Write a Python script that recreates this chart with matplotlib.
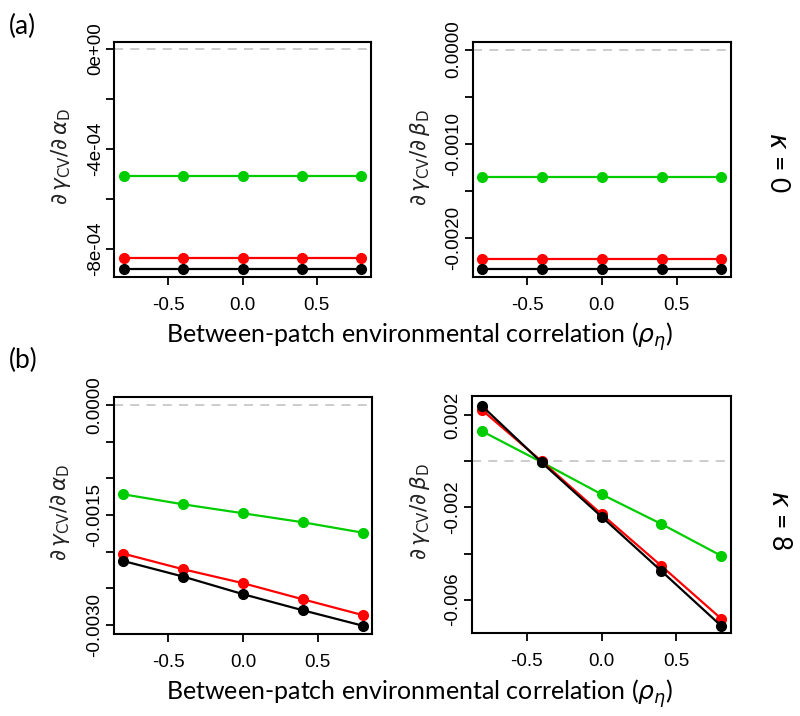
import numpy as np
import matplotlib
matplotlib.use("Agg")
import matplotlib.pyplot as plt

# between-patch environmental correlation
rho = [-0.8, -0.4, 0.0, 0.4, 0.8]

# (a) kappa = 0
a_alpha_black = [-8.80e-4] * 5
a_alpha_red = [-8.36e-4] * 5
a_alpha_green = [-5.08e-4] * 5
a_beta_black = [-2.34e-3] * 5
a_beta_red = [-2.23e-3] * 5
a_beta_green = [-1.355e-3] * 5

# (b) kappa = 8
b_alpha_black = [-2.127e-3, -2.34e-3, -2.58e-3, -2.80e-3, -3.01e-3]
b_alpha_red = [-2.027e-3, -2.24e-3, -2.43e-3, -2.65e-3, -2.865e-3]
b_alpha_green = [-1.216e-3, -1.353e-3, -1.475e-3, -1.598e-3, -1.74e-3]
b_beta_black = [2.41e-3, -0.05e-3, -2.40e-3, -4.76e-3, -7.14e-3]
b_beta_red = [2.23e-3, 0.0, -2.29e-3, -4.54e-3, -6.83e-3]
b_beta_green = [1.31e-3, -0.04e-3, -1.43e-3, -2.72e-3, -4.10e-3]

W, H = 800, 716
fig = plt.figure(figsize=(W / 100, H / 100), dpi=100)


def px_axes(x0, y0, x1, y1):
    return fig.add_axes([x0 / W, 1 - y1 / H, (x1 - x0) / W, (y1 - y0) / H])


def fx(x):
    return x / W


def fy(y):
    return 1 - y / H


GREEN = "#00CD00"
TICKFONT = dict(family="Liberation Sans", size=13.5)


def panel(ax, black, red, green, ylim, yticks, ylabels):
    ax.axhline(0, color="#C8C8C8", lw=1.3, ls=(0, (5, 4)), zorder=1)
    for vals, col in [(green, GREEN), (red, "red"), (black, "black")]:
        ax.plot(rho, vals, color=col, lw=1.6, marker="o", ms=7, zorder=3)
    ax.set_xlim(-0.865, 0.865)
    ax.set_ylim(*ylim)
    ax.set_xticks([-0.5, 0.0, 0.5])
    ax.set_xticklabels(["-0.5", "0.0", "0.5"], fontdict=TICKFONT)
    ax.set_yticks(yticks)
    ax.set_yticklabels(ylabels, rotation=90, va="center", fontdict=TICKFONT)
    ax.tick_params(length=5.5, width=1.3)
    ax.tick_params(axis="y", pad=2)
    ax.tick_params(axis="x", pad=9)
    for s in ax.spines.values():
        s.set_linewidth(1.5)


ax1 = px_axes(114.3, 42, 371, 277)
panel(ax1, a_alpha_black, a_alpha_red, a_alpha_green, (-9.12e-4, 2.8e-5),
      [0, -2e-4, -4e-4, -6e-4, -8e-4], ["0e+00", "", "-4e-04", "", "-8e-04"])

ax2 = px_axes(472.7, 42, 731, 277)
panel(ax2, a_beta_black, a_beta_red, a_beta_green, (-2.42e-3, 8.1e-5),
      [0, -5e-4, -1e-3, -1.5e-3, -2e-3], ["0.0000", "", "-0.0010", "", "-0.0020"])

ax3 = px_axes(113.7, 396.7, 372.3, 634)
panel(ax3, b_alpha_black, b_alpha_red, b_alpha_green, (-3.124e-3, 1.17e-4),
      [0, -5e-4, -1e-3, -1.5e-3, -2e-3, -2.5e-3, -3e-3],
      ["0.0000", "", "", "-0.0015", "", "", "-0.0030"])

ax4 = px_axes(472, 396, 731, 633.3)
panel(ax4, b_beta_black, b_beta_red, b_beta_green, (-7.46e-3, 2.83e-3),
      [2e-3, 0, -2e-3, -4e-3, -6e-3], ["0.002", "", "-0.002", "", "-0.006"])

ylab_a = r"$\partial\,\gamma_{\rm CV}/\partial\,\alpha_{\rm D}$"
ylab_b = r"$\partial\,\gamma_{\rm CV}/\partial\,\beta_{\rm D}$"
for x, y, s in [(61, 156, ylab_a), (420, 158, ylab_b), (60, 512, ylab_a), (420, 512, ylab_b)]:
    fig.text(fx(x), fy(y), s, rotation=90, ha="center", va="center",
             fontsize=15.5, color="#222222")

xlab = r"Between-patch environmental correlation ($\rho_\eta$)"
fig.text(fx(420), fy(337), xlab, ha="center", va="center", fontsize=18, family="Lato")
fig.text(fx(420), fy(694), xlab, ha="center", va="center", fontsize=18, family="Lato")

fig.text(fx(9), fy(26), "(a)", ha="left", va="center", fontsize=19, family="Lato")
fig.text(fx(9), fy(360), "(b)", ha="left", va="center", fontsize=19, family="Lato")

fig.text(fx(777), fy(162), r"$\kappa$ = 0", rotation=-90, ha="center", va="center",
         fontsize=19, family="Lato")
fig.text(fx(779), fy(520), r"$\kappa$ = 8", rotation=-90, ha="center", va="center",
         fontsize=19, family="Lato")

fig.savefig("out.png", dpi=100)
